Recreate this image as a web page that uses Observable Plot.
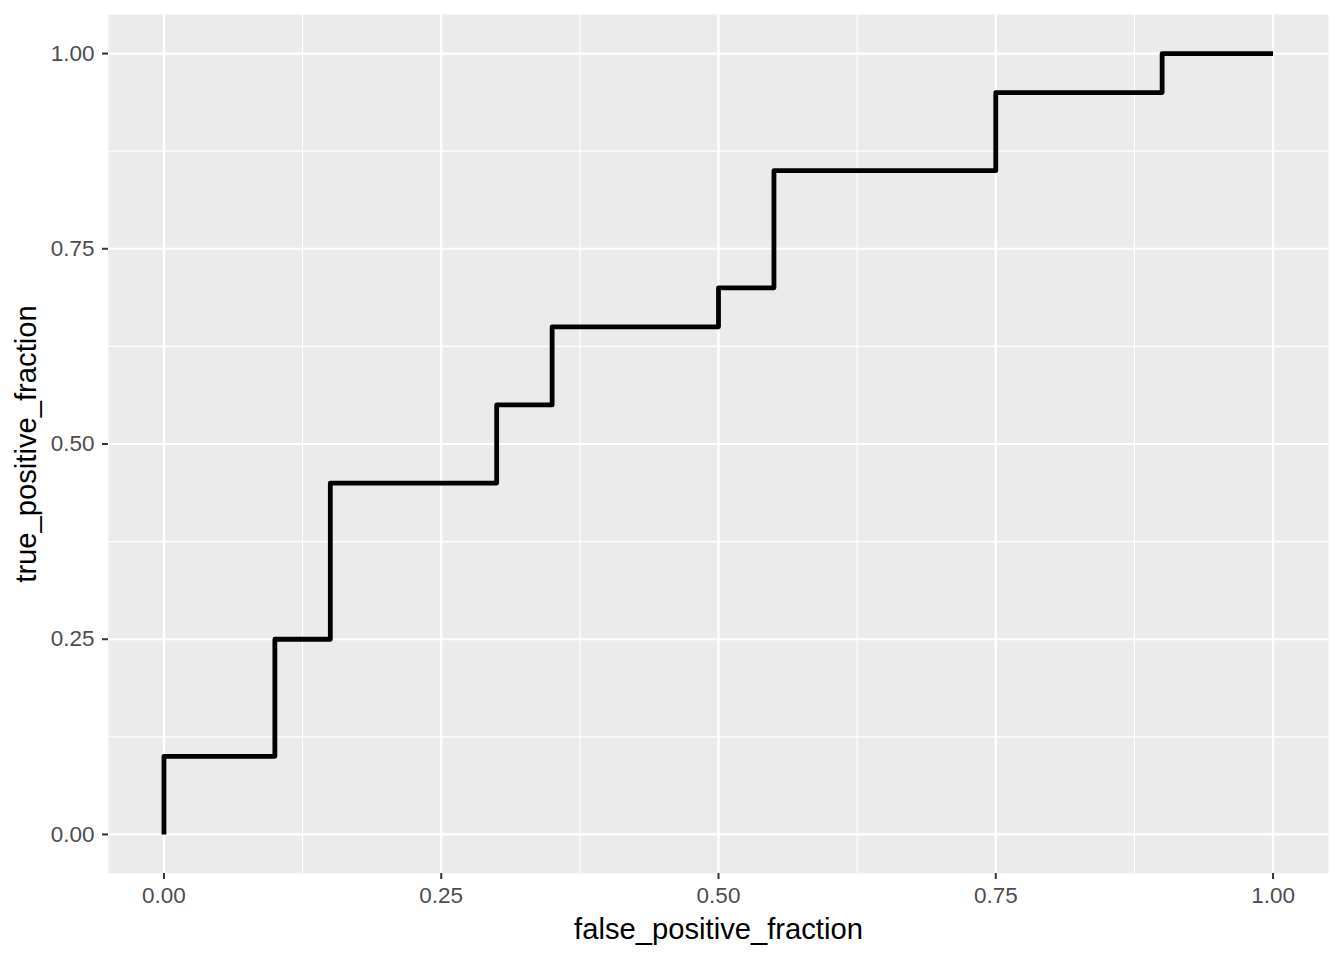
<!DOCTYPE html>
<html>
<head>
<meta charset="utf-8">
<script src="https://cdn.jsdelivr.net/npm/d3@7"></script>
<script src="https://cdn.jsdelivr.net/npm/@observablehq/plot@0.6"></script>
<style>
  html, body { margin: 0; padding: 0; background: #ffffff; }
  #chart { width: 1344px; height: 960px; }
</style>
</head>
<body>
<div id="chart"></div>
<script>
// ROC curve points (step-after)
const falsePositiveFraction = [0, 0, 0.10, 0.15, 0.25, 0.30, 0.35, 0.50, 0.55, 0.75, 0.85, 0.90, 0.95, 1.00];
const truePositiveFraction  = [0, 0.10, 0.25, 0.45, 0.45, 0.55, 0.65, 0.70, 0.85, 0.95, 0.95, 1.00, 1.00, 1.00];
const majorTicks = [0, 0.25, 0.5, 0.75, 1.0];
const minorTicks = [0.125, 0.375, 0.625, 0.875];
const xTitle = "false_positive_fraction";
const yTitle = "true_positive_fraction";

const data = falsePositiveFraction.map((x, i) => ({x, y: truePositiveFraction[i]}));
const fmt = d3.format(".2f");
const font = "'Liberation Sans', Arial, Helvetica, sans-serif";

const chart = Plot.plot({
  width: 1344,
  height: 960,
  marginLeft: 108,
  marginRight: 16,
  marginTop: 14,
  marginBottom: 87,
  style: {fontFamily: font, background: "#ffffff"},
  x: {domain: [-0.05, 1.05]},
  y: {domain: [-0.05, 1.05]},
  marks: [
    Plot.frame({fill: "#ebebeb", stroke: null}),
    Plot.gridX(minorTicks, {stroke: "#ffffff", strokeOpacity: 1, strokeWidth: 1.1}),
    Plot.gridY(minorTicks, {stroke: "#ffffff", strokeOpacity: 1, strokeWidth: 1.1}),
    Plot.gridX(majorTicks, {stroke: "#ffffff", strokeOpacity: 1, strokeWidth: 2.2}),
    Plot.gridY(majorTicks, {stroke: "#ffffff", strokeOpacity: 1, strokeWidth: 2.2}),
    Plot.axisX(majorTicks, {tickSize: 6, tickPadding: 8, tickFormat: fmt, fontSize: 22.5, color: "#4d4d4d", stroke: "#333333", strokeWidth: 2, label: null}),
    Plot.axisY(majorTicks, {tickSize: 6, tickPadding: 8, tickFormat: fmt, fontSize: 22.5, color: "#4d4d4d", stroke: "#333333", strokeWidth: 2, label: null}),
    Plot.line(data, {x: "x", y: "y", curve: "step-after", stroke: "#000000", strokeWidth: 4.8, strokeLinejoin: "round", strokeLinecap: "butt"}),
    Plot.text([xTitle], {frameAnchor: "bottom", dy: 56, text: d => d, fontSize: 29.2, fill: "#000000", textAnchor: "middle", lineAnchor: "middle"}),
    Plot.text([yTitle], {frameAnchor: "left", dx: -82, rotate: -90, text: d => d, fontSize: 29.2, fill: "#000000", textAnchor: "middle", lineAnchor: "middle"})
  ]
});
document.getElementById("chart").appendChild(chart);
</script>
</body>
</html>
